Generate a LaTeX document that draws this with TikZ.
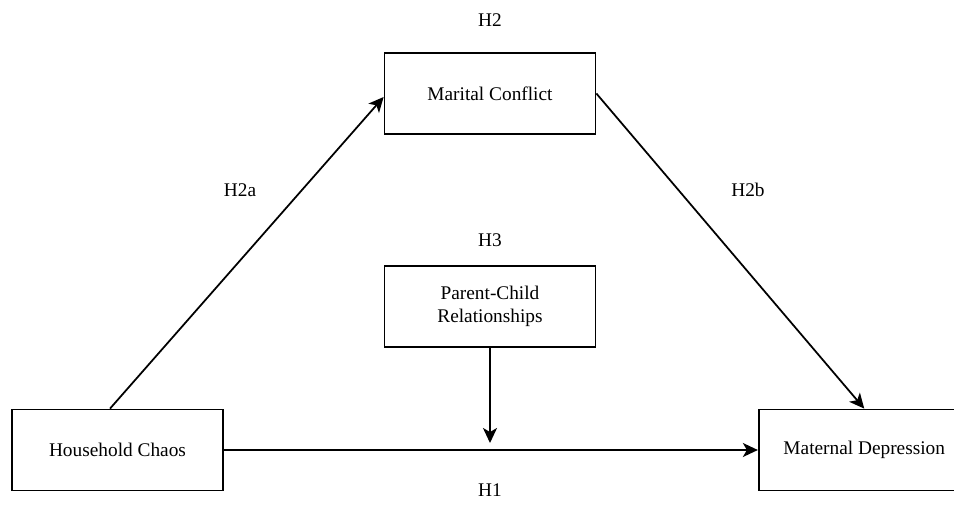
\documentclass[tikz,border=0pt]{standalone}
\usepackage{fontspec}
\setmainfont{Liberation Serif}
\usepackage{tikz}
\usetikzlibrary{positioning,calc,arrows.meta}

\begin{document}
\begin{tikzpicture}[font=\fontsize{11}{13}\selectfont,
    hyp box/.style={rectangle, draw, line width=1pt, minimum width=4.22cm, minimum height=1.62cm, align=center},
    hyp arrow/.style={-{Stealth[length=3mm,width=2.8mm,inset=0.8mm]}, line width=1pt},
    hyp label/.style={inner sep=0pt}]

    \useasboundingbox (0,0) rectangle (19.08,-10.16);

    \node [hyp box] (chaos) at (2.35,-9.0) {Household Chaos};
    \node [hyp box, right=10.68cm of chaos] (depr) {Maternal Depression};
    \node [hyp box] (conflict) at (9.8,-1.87) {Marital Conflict};
    \node [hyp box, below=2.6cm of conflict] (pcr) {Parent-Child\\Relationships};

    \node [hyp label, above=0.5cm of conflict] (h2) {H2};
    \node [hyp label] (h2a) at (4.8,-3.8) {H2a};
    \node [hyp label] (h2b) at (14.96,-3.8) {H2b};
    \node [hyp label, above=0.35cm of pcr] (h3) {H3};
    \node [hyp label] (h1) at (9.8,-9.8) {H1};

    \coordinate (mod) at ($(pcr.south |- chaos.east)+(0,0.14)$);

    \draw [hyp arrow] ([xshift=-0.15cm]chaos.north) -- ([yshift=-0.07cm]conflict.west);
    \draw [hyp arrow] (conflict.east) -- (depr.north);
    \draw [hyp arrow] (chaos) -- (depr);
    \draw [hyp arrow] (pcr) -- (mod);
\end{tikzpicture}
\end{document}
